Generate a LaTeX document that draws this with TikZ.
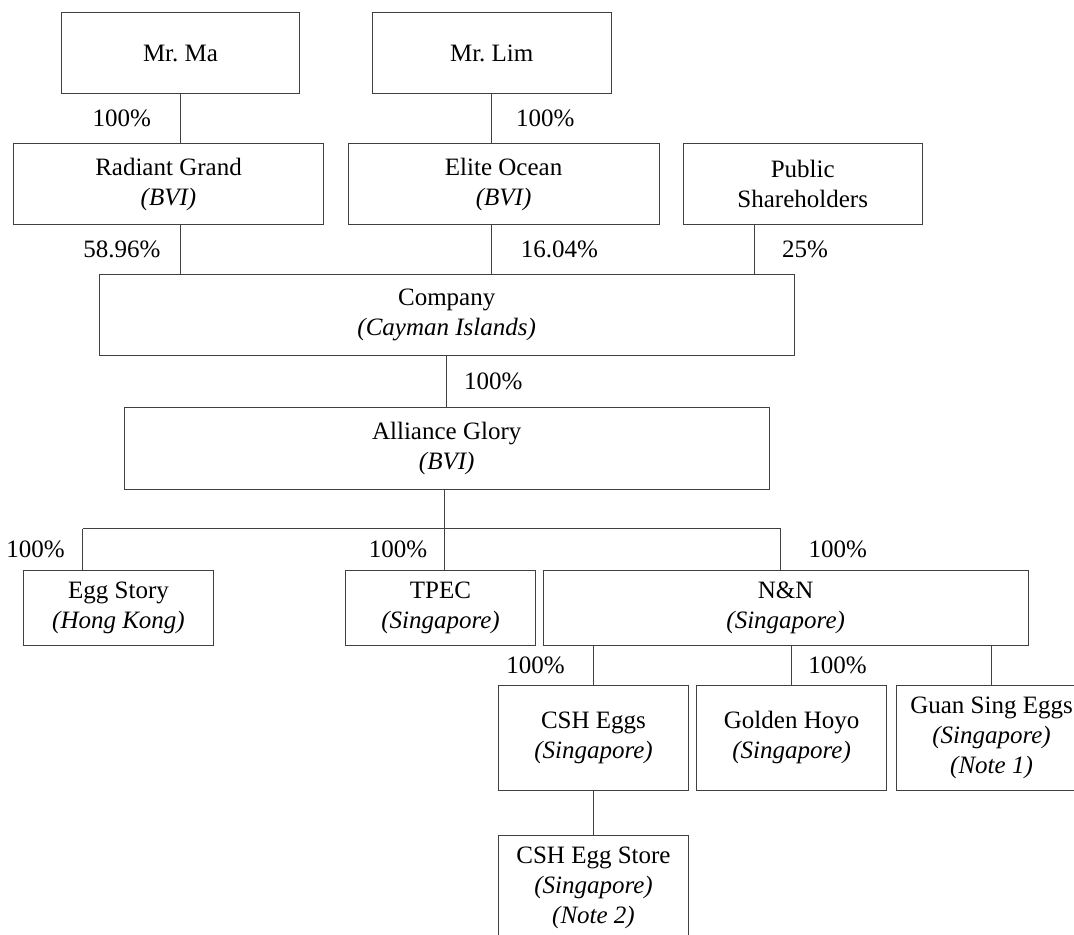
\documentclass[tikz,border=0pt]{standalone}
\usepackage{fontspec}
\setmainfont{Liberation Serif}
\usepackage{tikz}
\frenchspacing

\begin{document}
\begin{tikzpicture}[x=0.5pt, y=-0.5pt, every node/.style={font=\fontsize{12.5}{15}\selectfont}]
    \tikzset{box/.style={draw=black!75, line width=0.5pt, align=center, inner sep=0pt, minimum height=40.5pt},
             low/.style={box, minimum height=37.5pt},
             deep/.style={box, minimum height=52.5pt},
             link/.style={draw=black!75, line width=0.5pt},
             pct/.style={inner sep=0pt}}

    \useasboundingbox (0,0) rectangle (1074,935);
    \clip (0,0) rectangle (1074,935);

    \node[box, minimum width=119.2pt] (ma) at (180.5,53.3) {Mr.\ Ma};
    \node[box, minimum width=119.3pt] (lim) at (491.7,53.3) {Mr.\ Lim};

    \node[box, minimum width=155.2pt] (radiant) at (168.5,184.2) {Radiant Grand\\\textit{(BVI)}};
    \node[box, minimum width=155.6pt] (elite) at (503.6,184.2) {Elite Ocean\\\textit{(BVI)}};
    \node[box, minimum width=119.3pt] (public) at (802.7,184.2) {Public\\Shareholders};

    \node[box, minimum width=347.3pt, minimum height=40pt] (company) at (446.7,315) {Company\\\textit{(Cayman Islands)}};
    \node[box, minimum width=322.4pt, minimum height=40.9pt] (alliance) at (446.7,448.4) {Alliance Glory\\\textit{(BVI)}};

    \node[low, minimum width=95.3pt] (eggstory) at (118.5,608) {Egg Story\\\textit{(Hong Kong)}};
    \node[low, minimum width=95.2pt] (tpec) at (440.5,608) {TPEC\\\textit{(Singapore)}};
    \node[low, minimum width=242.4pt] (nn) at (785.7,608) {N\&N\\\textit{(Singapore)}};

    \node[deep, minimum width=95.3pt] (csh) at (593.5,737.5) {CSH Eggs\\\textit{(Singapore)}};
    \node[deep, minimum width=95.1pt] (golden) at (791.6,737.5) {Golden Hoyo\\\textit{(Singapore)}};
    \node[deep, minimum width=95.2pt] (guan) at (991.5,737.5) {Guan Sing Eggs\\\textit{(Singapore)}\\\textit{(Note 1)}};
    \node[deep, minimum width=95.3pt] (store) at (593.5,887.5) {CSH Egg Store\\\textit{(Singapore)}\\\textit{(Note 2)}};

    \coordinate (pub) at ([xshift=-24pt]public.south);
    \coordinate (fork) at (444,528.5);
    \coordinate (es) at ([xshift=-18pt]eggstory.north);
    \coordinate (nt) at ([xshift=-2.5pt]nn.north);

    \draw[link] (ma.south) -- (ma.south |- radiant.north) node[pct, midway, left=14.5pt] {100\%};
    \draw[link] (lim.south) -- (lim.south |- elite.north) node[pct, midway, right=12pt] {100\%};

    \draw[link] (ma.south |- radiant.south) -- (ma.south |- company.north) node[pct, midway, left=9.75pt] {58.96\%};
    \draw[link] (lim.south |- elite.south) -- (lim.south |- company.north) node[pct, midway, right=14.3pt] {16.04\%};
    \draw[link] (pub) -- (pub |- company.north) node[pct, midway, right=13.5pt] {25\%};

    \draw[link] (company.south) -- (alliance.north) node[pct, midway, right=8.5pt] {100\%};

    \draw[link] (fork |- alliance.south) -- (fork);
    \draw[link] (es |- fork) -- (nt |- fork);
    \draw[link] (es |- fork) -- (es) node[pct, midway, left=8.65pt] {100\%};
    \draw[link] (fork) -- (fork |- tpec.north) node[pct, midway, left=8.15pt] {100\%};
    \draw[link] (nt |- fork) -- (nt) node[pct, midway, right=13.7pt] {100\%};

    \draw[link] (csh.north |- nn.south) -- (csh.north) node[pct, midway, left=14.15pt] {100\%};
    \draw[link] (golden.north |- nn.south) -- (golden.north) node[pct, midway, right=8.15pt] {100\%};
    \draw[link] (guan.north |- nn.south) -- (guan.north);

    \draw[link] (csh.south) -- (store.north);
\end{tikzpicture}
\end{document}
